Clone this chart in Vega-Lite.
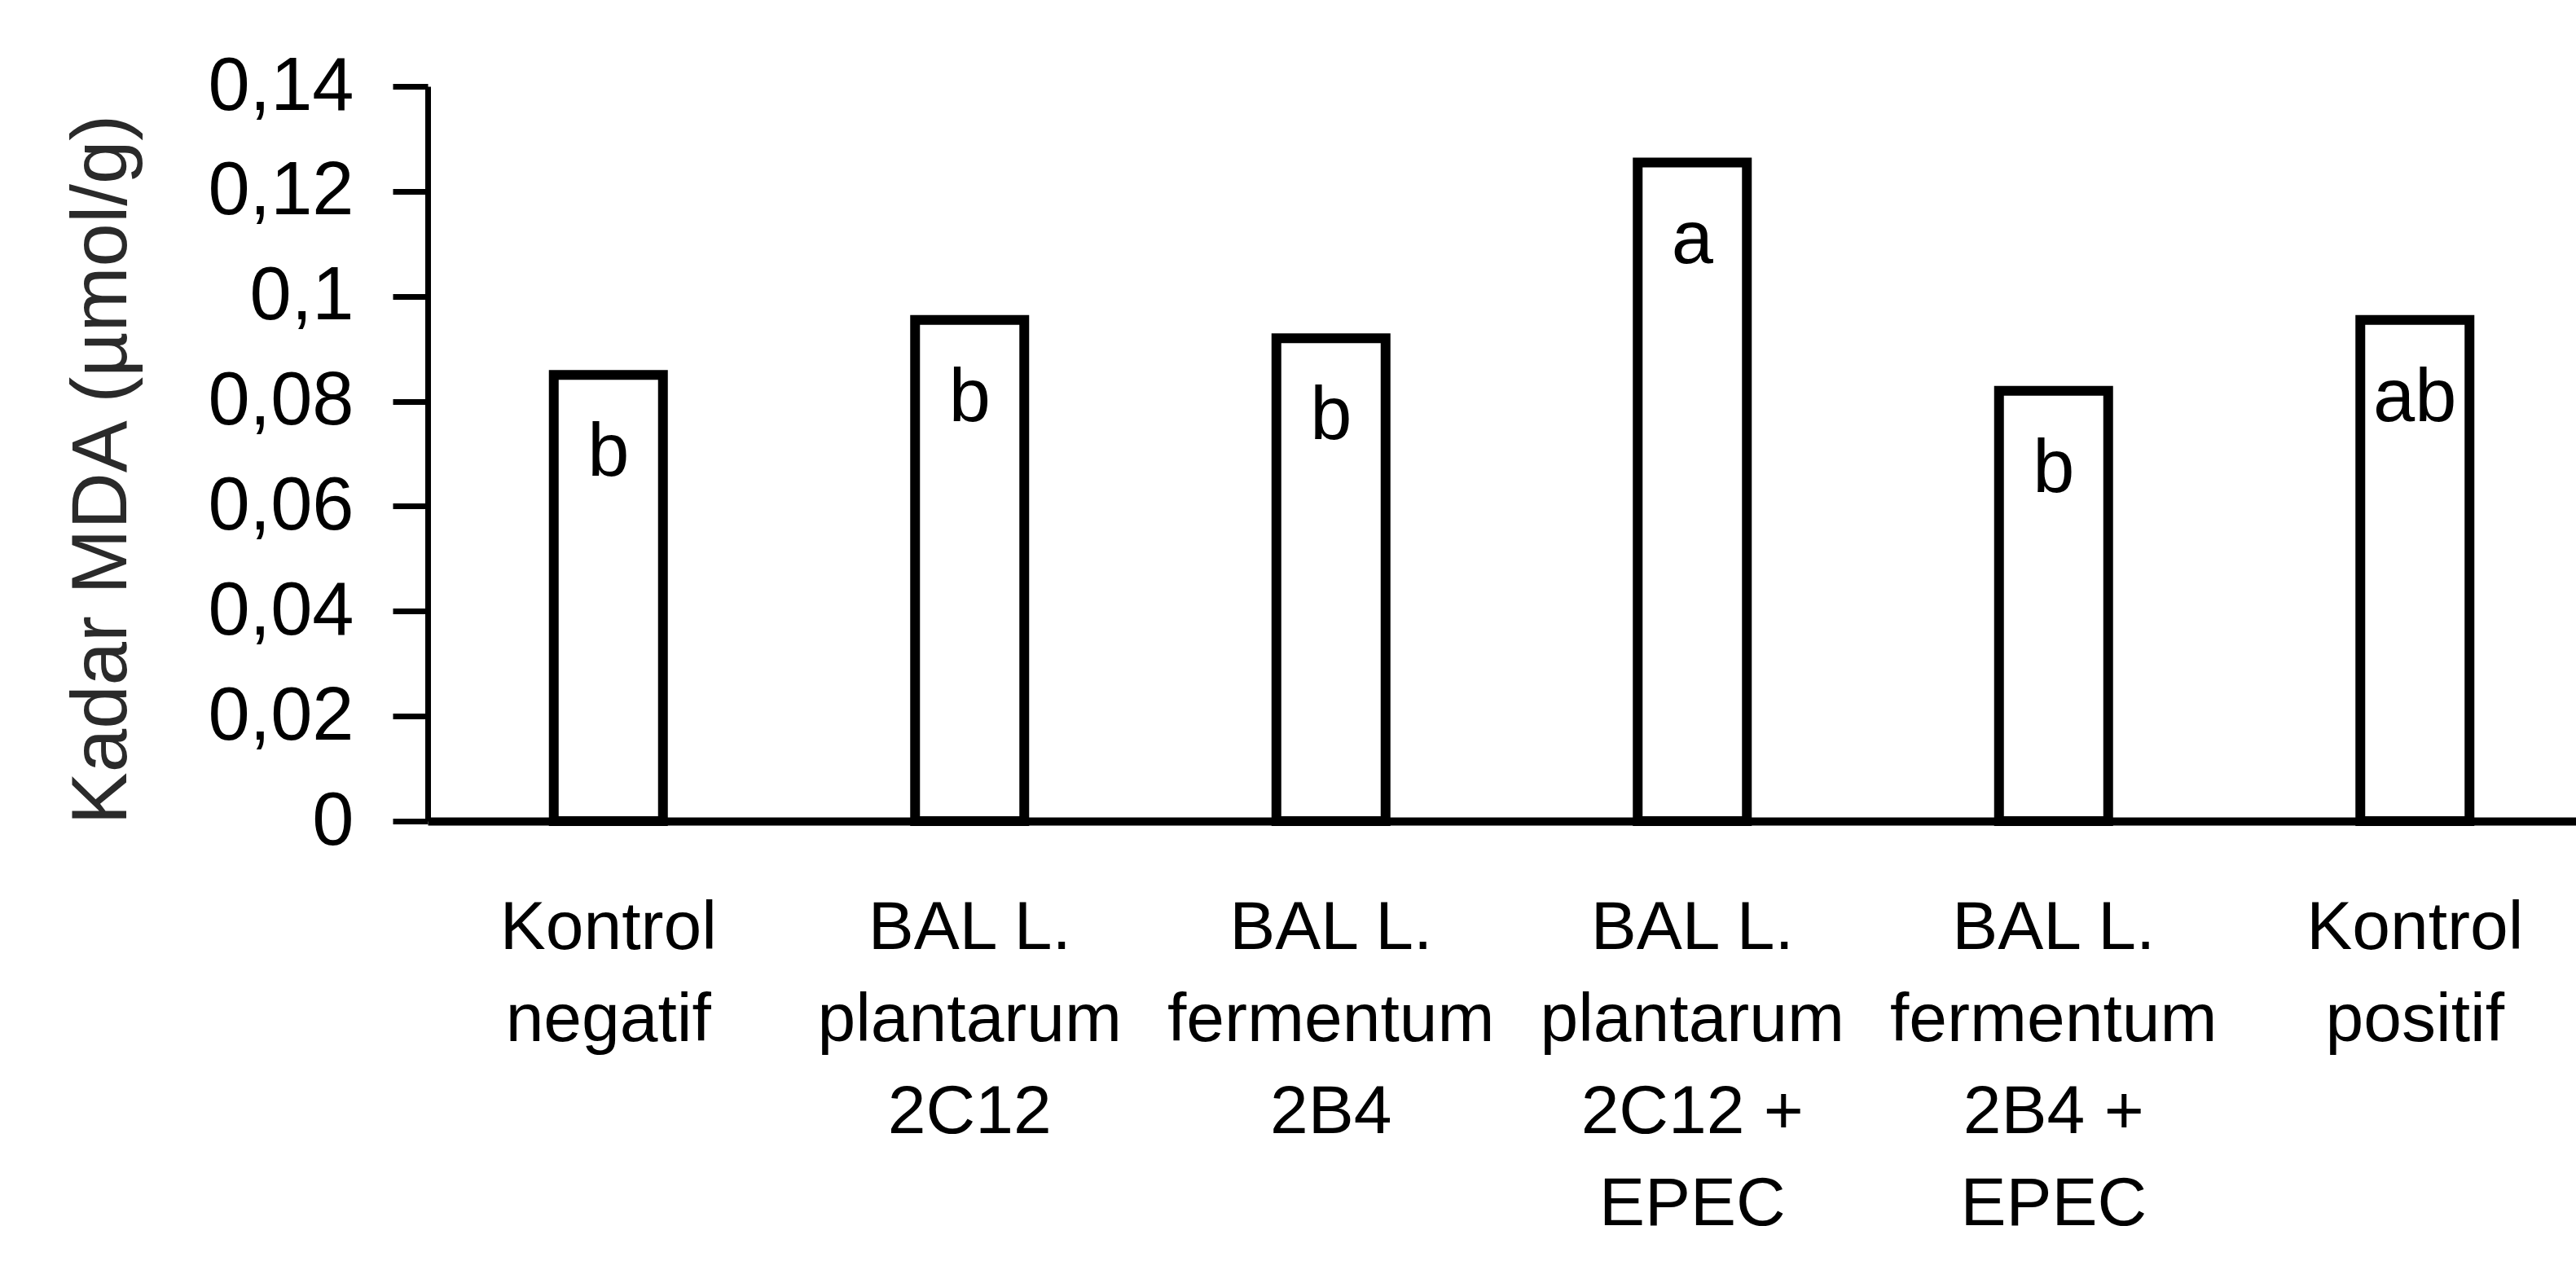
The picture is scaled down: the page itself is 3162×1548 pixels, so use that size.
{
  "$schema": "https://vega.github.io/schema/vega-lite/v6.json",
  "width": 2637,
  "height": 902,
  "autosize": "none",
  "padding": {"left": 525, "top": 106, "right": 0, "bottom": 540},
  "background": "white",
  "config": {"view": {"stroke": null}, "font": "Liberation Sans"},
  "data": {
    "values": [
      {"perlakuan": "Kontrol\nnegatif", "mda": 0.085, "huruf": "b"},
      {"perlakuan": "BAL L.\nplantarum\n2C12", "mda": 0.0955, "huruf": "b"},
      {"perlakuan": "BAL L.\nfermentum\n2B4", "mda": 0.092, "huruf": "b"},
      {"perlakuan": "BAL L.\nplantarum\n2C12 +\nEPEC", "mda": 0.1255, "huruf": "a"},
      {"perlakuan": "BAL L.\nfermentum\n2B4 +\nEPEC", "mda": 0.082, "huruf": "b"},
      {"perlakuan": "Kontrol\npositif", "mda": 0.0955, "huruf": "ab"}
    ]
  },
  "encoding": {
    "x": {
      "field": "perlakuan",
      "type": "nominal",
      "sort": null,
      "scale": {"range": [0, 2661], "paddingInner": 0.7, "paddingOuter": 0.35},
      "axis": {
        "title": null,
        "labelAngle": 0,
        "labelExpr": "split(datum.label, '\\n')",
        "labelFontSize": 84,
        "labelLineHeight": 113,
        "labelPadding": 90,
        "labelBaseline": "top",
        "labelColor": "black",
        "labelFont": "Liberation Sans",
        "labelLimit": 0,
        "ticks": false,
        "domainColor": "black",
        "domainWidth": 10,
        "labelOverlap": false
      }
    },
    "y": {
      "field": "mda",
      "type": "quantitative",
      "scale": {"domain": [0, 0.14], "nice": false},
      "axis": {
        "values": [0, 0.02, 0.04, 0.06, 0.08, 0.1, 0.12, 0.14],
        "labelExpr": "replace(format(datum.value, '.2~f'), '.', ',')",
        "labelFontSize": 92,
        "labelPadding": 48,
        "labelColor": "black",
        "labelFont": "Liberation Sans",
        "labelLimit": 0,
        "tickSize": 43,
        "tickWidth": 7,
        "tickColor": "black",
        "domainWidth": 7,
        "domainColor": "black",
        "grid": false,
        "title": "Kadar MDA  (µmol/g)",
        "titleFont": "Liberation Sans",
        "titleFontSize": 96,
        "titleFontWeight": "normal",
        "titleColor": "#2a2a2a",
        "titleAngle": 270,
        "titleAlign": "center",
        "titleBaseline": "middle",
        "titleX": -400,
        "titleY": 470,
        "titleLimit": 0
      }
    }
  },
  "layer": [
    {
      "mark": {"type": "bar", "fill": "white", "stroke": "black", "strokeWidth": 12, "width": 134}
    },
    {
      "mark": {"type": "text", "dy": 96, "baseline": "middle", "align": "center", "fontSize": 92, "font": "Liberation Sans", "color": "black"},
      "encoding": {"text": {"field": "huruf"}}
    }
  ]
}
